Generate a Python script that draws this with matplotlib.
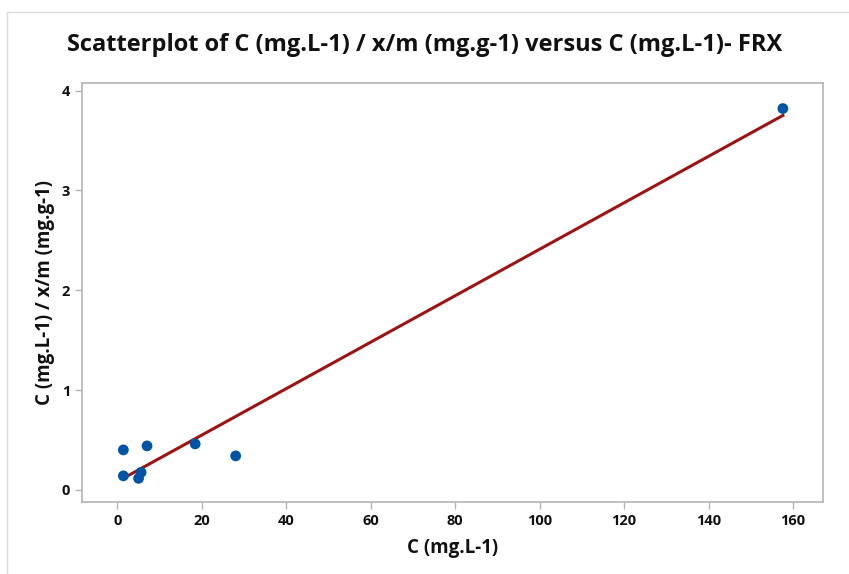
import numpy as np
import matplotlib
matplotlib.use("Agg")
import matplotlib.pyplot as plt
from matplotlib.lines import Line2D

conc = [1.4, 1.4, 7.0, 5.6, 5.0, 18.4, 28.0, 157.6]          # C (mg.L-1)
ratio = [0.40, 0.14, 0.44, 0.175, 0.115, 0.46, 0.34, 3.82]    # C / (x/m)
x_ticks = [0, 20, 40, 60, 80, 100, 120, 140, 160]
y_ticks = [0, 1, 2, 3, 4]

TITLE = "Scatterplot of C (mg.L-1) / x/m (mg.g-1) versus C (mg.L-1)- FRX"
XLABEL = "C (mg.L-1)"
YLABEL = "C (mg.L-1) / x/m (mg.g-1)"

BLUE = "#0054a6"
RED = "#9b1414"
GREY = "#b4b4b4"

plt.rcParams.update({
    "font.family": ["Open Sans", "DejaVu Sans"],
    "font.weight": "bold",
})

fig = plt.figure(figsize=(8.49, 5.74), dpi=100)
ax = fig.add_axes([82 / 849, 1 - 502 / 574, (823 - 82) / 849, (502 - 83) / 574])

# Fitted regression line over the data range
slope, intercept = np.polyfit(conc, ratio, 1)
xs = np.array([min(conc), max(conc)])
ax.plot(xs, slope * xs + intercept, color=RED, linewidth=2.2, zorder=2)

ax.scatter(conc, ratio, s=60, color=BLUE, edgecolors="none", zorder=3)

ax.set_xlim(-8.4, 167.1)
ax.set_ylim(-0.122, 4.076)
ax.set_xticks(x_ticks)
ax.set_yticks(y_ticks)

for side in ["top", "right", "left", "bottom"]:
    ax.spines[side].set_color(GREY)
    ax.spines[side].set_linewidth(1.2)
ax.tick_params(colors=GREY, labelcolor="#111111", labelsize=10.5,
               length=5, width=1, direction="out")
for lbl in ax.get_xticklabels() + ax.get_yticklabels():
    lbl.set_fontweight("bold")

ax.set_xlabel(XLABEL, fontsize=13.5, fontweight="bold", color="#111111", labelpad=7)
ax.set_ylabel(YLABEL, fontsize=13.5, fontweight="bold", color="#111111", labelpad=5)
fig.suptitle(TITLE, x=0.5, y=1 - 45 / 574, va="center",
             fontsize=17, fontweight="bold", color="#111111")

# Thin outer frame lines (figure border from the source document)
fig.add_artist(Line2D([7 / 849, 7 / 849], [0, 1 - 12 / 574],
                      transform=fig.transFigure, color="#dcdcdc", linewidth=1))
fig.add_artist(Line2D([7 / 849, 1], [1 - 12 / 574, 1 - 12 / 574],
                      transform=fig.transFigure, color="#dcdcdc", linewidth=1))

fig.savefig("out.png", dpi=100)
